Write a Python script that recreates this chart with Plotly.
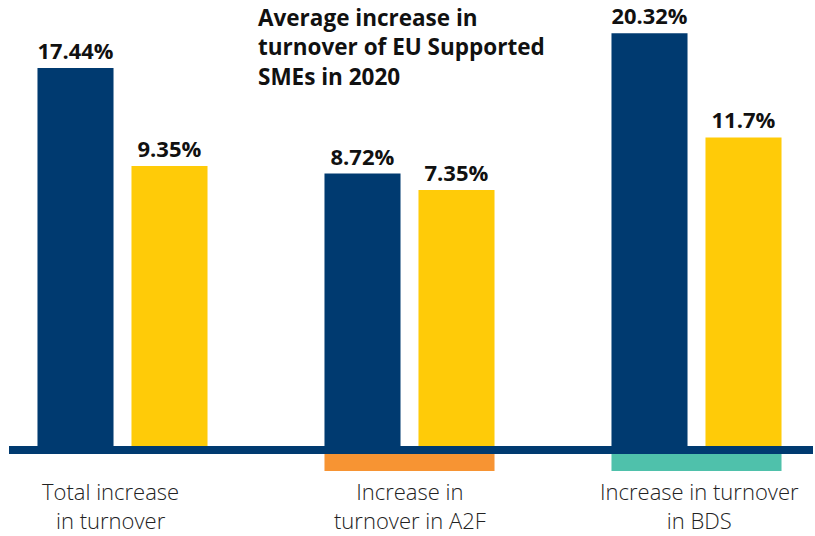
import plotly.graph_objects as go

# ---- data ----
categories = ["Total increase<br>in turnover", "Increase in<br>turnover in A2F", "Increase in turnover<br>in BDS"]
series_names = ["EU supported", "Comparison"]
navy_values = [17.44, 8.72, 20.32]
yellow_values = [9.35, 7.35, 11.7]
navy_labels = ["17.44%", "8.72%", "20.32%"]
yellow_labels = ["9.35%", "7.35%", "11.7%"]
title_text = "Average increase in<br>turnover of EU Supported<br>SMEs in 2020"

# implied value at the drawn baseline of the (non-zero based) infographic axis
AXIS_START = -13.8

NAVY = "#003A70"
YELLOW = "#FFCB08"
ORANGE = "#F79433"
TEAL = "#4FC1AB"

W, H = 815, 536
PX_PER_UNIT_Y = 12.1
BASE_PX = 446  # pixel row of the baseline (from top)
y_top = AXIS_START + BASE_PX / PX_PER_UNIT_Y
y_bot = y_top - H / PX_PER_UNIT_Y

PX_PER_CAT = 287.0
CAT0_PX = 122.5
x_left = -CAT0_PX / PX_PER_CAT
x_right = (W - CAT0_PX) / PX_PER_CAT

BARGAP = 0.345
BARGROUPGAP = 0.191
slot = (1 - BARGAP) / 2
bar_w = slot * (1 - BARGROUPGAP)
half_group = slot - (slot - bar_w) / 2  # distance from group center to outer bar edge

x = list(range(len(categories)))

FONT = "'Open Sans', Lato, sans-serif"
label_font = dict(family=FONT, size=22, color="#111111", weight="bold")

fig = go.Figure()
fig.add_trace(go.Bar(
    x=x, y=[v - AXIS_START for v in navy_values], base=AXIS_START,
    name=series_names[0], marker=dict(color=NAVY, line=dict(width=0)),
    text=navy_labels, textposition="outside", textfont=label_font,
    cliponaxis=False, hoverinfo="skip",
))
fig.add_trace(go.Bar(
    x=x, y=[v - AXIS_START for v in yellow_values], base=AXIS_START,
    name=series_names[1], marker=dict(color=YELLOW, line=dict(width=0)),
    text=yellow_labels, textposition="outside", textfont=label_font,
    cliponaxis=False, hoverinfo="skip",
))

# baseline
fig.add_shape(type="rect", xref="paper", yref="paper",
              x0=9 / W, x1=813 / W, y0=1 - 454 / H, y1=1 - 446 / H,
              fillcolor=NAVY, line=dict(width=0), layer="above")
# coloured tabs under the second and third groups
for i, col in [(1, ORANGE), (2, TEAL)]:
    fig.add_shape(type="rect", xref="x", yref="paper",
                  x0=i - half_group, x1=i + half_group,
                  y0=1 - 471 / H, y1=1 - 454 / H,
                  fillcolor=col, line=dict(width=0), layer="above")

# category labels
shifts = [-12, 0, 3]
for i, (c, s) in enumerate(zip(categories, shifts)):
    fig.add_annotation(x=i, y=1 - 474 / H, xref="x", yref="paper",
                       text=c, showarrow=False, xanchor="center", yanchor="top",
                       xshift=s, align="center",
                       font=dict(family=FONT, size=22, color="#222222", weight=300))

# title
fig.add_annotation(x=256 / W, y=1 - 0 / H, xref="paper", yref="paper",
                   text=title_text, showarrow=False, xanchor="left", yanchor="top",
                   align="left",
                   font=dict(family=FONT, size=22.5, color="#111111", weight="bold"))

fig.update_layout(
    width=W, height=H,
    margin=dict(l=0, r=0, t=0, b=0),
    paper_bgcolor="white", plot_bgcolor="white",
    barmode="group", bargap=BARGAP, bargroupgap=BARGROUPGAP,
    showlegend=False,
    xaxis=dict(range=[x_left, x_right], visible=False, fixedrange=True),
    yaxis=dict(range=[y_bot, y_top], visible=False, fixedrange=True),
)

fig.write_html("out.html", config={"displayModeBar": False},
               post_script="document.body.style.margin='0';document.body.style.overflow='hidden';")
